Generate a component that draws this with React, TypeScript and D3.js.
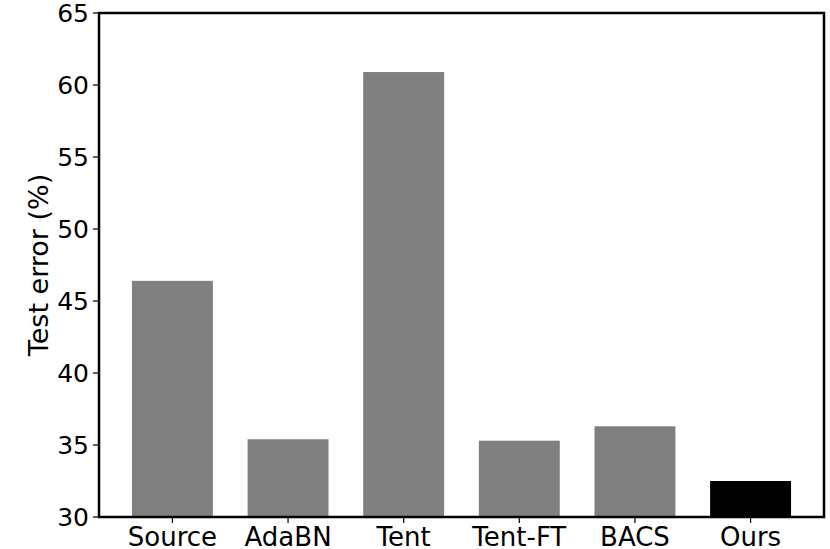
import React from 'react';
import * as d3 from 'd3';

const methods = ['Source', 'AdaBN', 'Tent', 'Tent-FT', 'BACS', 'Ours'];
const testError = [46.4, 35.4, 60.9, 35.3, 36.3, 32.5];
const barColors = ['#808080', '#808080', '#808080', '#808080', '#808080', '#000000'];
const yTicks = [30, 35, 40, 45, 50, 55, 60, 65];

const App = () => {
  const width = 830;
  const height = 549;
  const left = 99;
  const right = 824;
  const top = 13;
  const bottom = 517;
  const barW = 0.7;
  const font = 'DejaVu Sans, sans-serif';

  // x: category index, with matplotlib-like 5% margins
  const span = methods.length - 1 + barW;
  const pad = span * 0.05;
  const x = d3
    .scaleLinear()
    .domain([-barW / 2 - pad, methods.length - 1 + barW / 2 + pad])
    .range([left, right]);

  const y = d3.scaleLinear().domain([30, 65]).range([bottom, top]);

  return (
    <svg width={width} height={height} style={{ position: 'absolute', left: 0, top: 0 }}>
      <rect width={width} height={height} fill="#fff" />
      {methods.map((m, i) => (
        <rect
          key={m}
          x={x(i - barW / 2)}
          y={y(testError[i])}
          width={x(barW) - x(0)}
          height={y(30) - y(testError[i])}
          fill={barColors[i]}
        />
      ))}
      {/* axes frame */}
      <rect
        x={left}
        y={top}
        width={right - left}
        height={bottom - top}
        fill="none"
        stroke="#000"
        strokeWidth={2.5}
      />
      {yTicks.map(t => (
        <g key={t} transform={`translate(${left},${y(t)})`}>
          <line x1={-6} x2={0} stroke="#000" strokeWidth={1.2} />
          <text
            x={-10}
            dy="0.36em"
            textAnchor="end"
            fontFamily={font}
            fontSize={25}
            fill="#000"
          >
            {t}
          </text>
        </g>
      ))}
      {methods.map((m, i) => (
        <g key={m} transform={`translate(${x(i)},${bottom})`}>
          <line y1={0} y2={6} stroke="#000" strokeWidth={1.2} />
          <text
            y={29}
            textAnchor="middle"
            fontFamily={font}
            fontSize={26}
            fill="#000"
          >
            {m}
          </text>
        </g>
      ))}
      <text
        transform={`translate(48,${(top + bottom) / 2}) rotate(-90)`}
        textAnchor="middle"
        fontFamily={font}
        fontSize={27}
        fill="#000"
      >
        Test error (%)
      </text>
    </svg>
  );
};

export default App;
